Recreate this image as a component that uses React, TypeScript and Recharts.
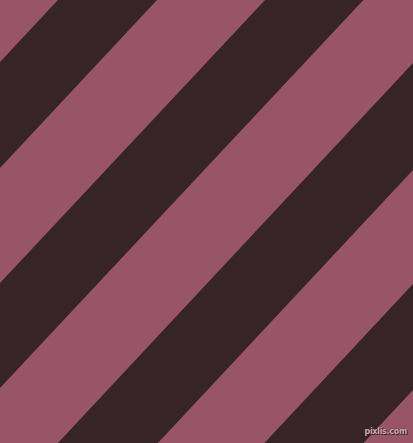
import { ComposedChart, Area, XAxis, YAxis } from 'recharts';

// x positions sampled: left and right edges of the picture
const edgeX = [0, 413];

// each dark stripe: [upper, lower] y of its two border lines at the left and right edge
const stripeA = [[62, 168], [-380, -274]];
const stripeB = [[283, 388], [-158, -53]];
const stripeC = [[505, 612], [63, 170]];
const stripeD = [[726, 832], [284, 390]];

const stripes = [stripeA, stripeB, stripeC, stripeD];

const PINK = '#995568';
const DARK = '#362428';

const data = edgeX.map((x, i) => ({
  x,
  s0: stripes[0][i],
  s1: stripes[1][i],
  s2: stripes[2][i],
  s3: stripes[3][i],
}));

export default function App() {
  return (
    <div style={{ position: 'fixed', left: 0, top: 0, width: 413, height: 443, background: PINK }}>
      <style>{`body{margin:0}`}</style>
      <ComposedChart width={413} height={443} data={data} margin={{ top: 0, right: 0, bottom: 0, left: 0 }}>
        <XAxis dataKey="x" type="number" domain={[0, 413]} hide allowDataOverflow />
        <YAxis type="number" domain={[0, 443]} reversed hide allowDataOverflow />
        {stripes.map((_, i) => (
          <Area
            key={i}
            dataKey={`s${i}`}
            type="linear"
            stroke="none"
            fill={DARK}
            fillOpacity={1}
            isAnimationActive={false}
            dot={false}
            activeDot={false}
          />
        ))}
      </ComposedChart>
      <div
        style={{
          position: 'absolute',
          right: 6,
          bottom: 7,
          fontFamily: '"DejaVu Sans", sans-serif',
          fontSize: 8,
          fontWeight: 'bold',
          letterSpacing: -0.3,
          color: '#c9a5b0',
          textShadow: '0 0 1px #3a2028, 1px 1px 0 #3a2028',
        }}
      >
        pixlis.com
      </div>
    </div>
  );
}
